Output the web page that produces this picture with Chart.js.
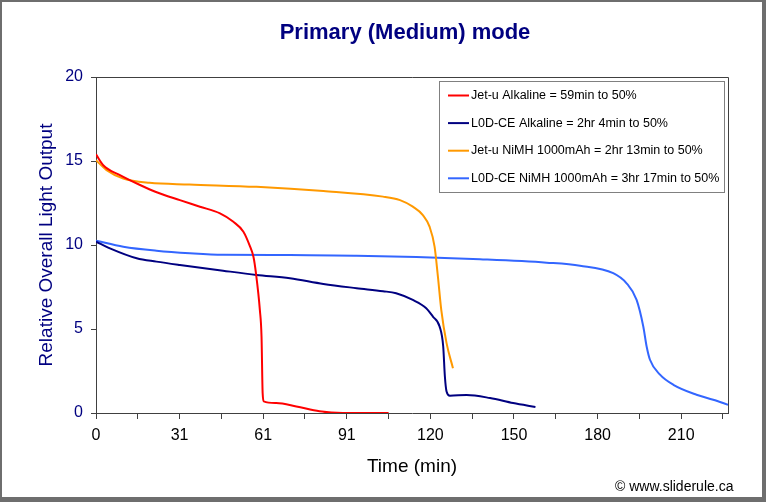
<!DOCTYPE html>
<html lang="en">
<head>
<meta charset="UTF-8">
<title>Primary (Medium) mode</title>
<script src="https://cdn.jsdelivr.net/npm/chart.js"></script>
<style>
    body {
        margin: 0;
        background: #fff;
    }
    #wrap {
        width: 766px;
        height: 502px;
    }
</style>
</head>
<body>
<div id="wrap"><canvas id="runtime-chart" width="766" height="502"></canvas></div>
<script>
// tick labels on the time axis (Excel category labels, one every 2 tick marks)
const xTickLabels = ['0', '31', '61', '91', '120', '150', '180', '210'];

// Jet-u Alkaline
const jetAlkTime = [0, 2.6, 8.6, 15.8, 21.3, 30.1, 37.3, 44.5, 49.3, 52.9, 55.3, 56.5, 57.4, 58.8, 59.4, 59.8, 60.2, 64.7, 71.9, 80.2, 88.6, 105];
const jetAlkOutput = [15.4, 14.75, 14.16, 13.57, 13.17, 12.67, 12.28, 11.88, 11.38, 10.79, 9.9, 9.3, 8.32, 6.14, 4.55, 1.19, 0.69, 0.59, 0.39, 0.1, 0, 0];

// L0D-CE Alkaline
const lodAlkTime = [0, 5, 14.6, 21.7, 30.1, 45.6, 57.6, 69.6, 81.6, 93.5, 103, 107.7, 113.7, 118.5, 120.9, 123.3, 124.6, 125.2, 125.8, 127, 133, 141.4, 149.7, 157.7];
const lodAlkOutput = [10.2, 9.8, 9.21, 9.01, 8.81, 8.47, 8.22, 8.02, 7.68, 7.43, 7.25, 7.13, 6.73, 6.24, 5.74, 5.15, 3.96, 2.17, 1.28, 1.03, 1.07, 0.89, 0.59, 0.36];

// Jet-u NiMH 1000mAh
const jetNimhTime = [0, 3.8, 9.8, 19.2, 33.5, 57.6, 81.6, 103, 109.1, 113.7, 117.3, 119.7, 121.5, 122.7, 123.9, 125.8, 128.1];
const jetNimhOutput = [15.05, 14.46, 13.96, 13.7, 13.6, 13.46, 13.21, 12.88, 12.67, 12.28, 11.78, 11.09, 9.9, 8.12, 6.14, 4.16, 2.67];

// L0D-CE NiMH 1000mAh
const lodNimhTime = [0, 9.8, 21.7, 33.7, 45.6, 69.6, 93.5, 115, 137.8, 161.7, 173.7, 185.6, 190.4, 194, 196.4, 197.6, 198.8, 202.4, 207.2, 215.5, 221.5, 226.8];
const lodNimhOutput = [10.26, 9.9, 9.66, 9.51, 9.42, 9.41, 9.36, 9.28, 9.15, 8.95, 8.77, 8.32, 7.72, 6.73, 5.15, 3.96, 3.17, 2.28, 1.68, 1.09, 0.79, 0.49];

const seriesLabels = [
    'Jet-u Alkaline = 59min to 50%',
    'L0D-CE Alkaline = 2hr 4min to 50%',
    'Jet-u NiMH 1000mAh = 2hr 13min to 50%',
    'L0D-CE NiMH 1000mAh = 3hr 17min to 50%'
];

function toPoints(xs, ys) {
    return xs.map((x, i) => ({ x: x, y: ys[i] }));
}

Chart.defaults.font.family = 'Arial, "Liberation Sans", sans-serif';

const axisColor = '#404040';

// title, plot frame, legend box, credit and outer border
const decorations = {
    id: 'decorations',
    afterDraw(chart) {
        const ctx = chart.ctx;
        const area = chart.chartArea;
        ctx.save();

        // plot frame (top and right edges)
        ctx.strokeStyle = axisColor;
        ctx.lineWidth = 1;
        ctx.beginPath();
        ctx.moveTo(area.left, area.top + 0.5);
        ctx.lineTo(area.right + 0.5, area.top + 0.5);
        ctx.lineTo(area.right + 0.5, area.bottom);
        ctx.stroke();

        // title
        ctx.fillStyle = '#000080';
        ctx.font = 'bold 22px Arial, "Liberation Sans", sans-serif';
        ctx.textAlign = 'center';
        ctx.textBaseline = 'middle';
        ctx.fillText('Primary (Medium) mode', 405, 33);

        // legend
        const lx = 439.5, ly = 81.5, lw = 285, lh = 111;
        ctx.fillStyle = '#fff';
        ctx.fillRect(lx, ly, lw, lh);
        ctx.strokeStyle = '#808080';
        ctx.strokeRect(lx, ly, lw, lh);
        ctx.font = '12.5px Arial, "Liberation Sans", sans-serif';
        ctx.textAlign = 'left';
        chart.data.datasets.forEach((ds, i) => {
            const y = 95.5 + i * 27.6;
            ctx.strokeStyle = ds.borderColor;
            ctx.lineWidth = 2;
            ctx.beginPath();
            ctx.moveTo(448, y);
            ctx.lineTo(469, y);
            ctx.stroke();
            ctx.fillStyle = '#000';
            ctx.fillText(ds.label, 471, y);
        });

        // credit
        ctx.font = '14px Arial, "Liberation Sans", sans-serif';
        ctx.fillStyle = '#000';
        ctx.fillText('\u00A9 www.sliderule.ca', 615, 487);

        // outer border
        ctx.strokeStyle = '#6e6e6e';
        ctx.lineWidth = 2;
        ctx.strokeRect(1, 1, 762, 497);
        ctx.fillStyle = '#6e6e6e';
        ctx.fillRect(763, 0, 3, 502);
        ctx.fillRect(0, 498, 766, 4);
        ctx.restore();
    }
};

const ctx = document.getElementById('runtime-chart').getContext('2d');
const runtimeChart = new Chart(ctx, {
    type: 'line',
    data: {
        datasets: [
            { label: seriesLabels[0], data: toPoints(jetAlkTime, jetAlkOutput), borderColor: '#ff0000' },
            { label: seriesLabels[1], data: toPoints(lodAlkTime, lodAlkOutput), borderColor: '#000080' },
            { label: seriesLabels[2], data: toPoints(jetNimhTime, jetNimhOutput), borderColor: '#ff9900' },
            { label: seriesLabels[3], data: toPoints(lodNimhTime, lodNimhOutput), borderColor: '#3366ff' }
        ]
    },
    options: {
        responsive: false,
        animation: false,
        parsing: false,
        elements: {
            point: { radius: 0 },
            line: { borderWidth: 2, cubicInterpolationMode: 'monotone', fill: false }
        },
        layout: {
            padding: { top: 77, right: 38, bottom: 0, left: 0 }
        },
        plugins: {
            legend: { display: false },
            title: { display: false },
            tooltip: { enabled: false }
        },
        scales: {
            x: {
                type: 'linear',
                min: 0,
                max: 226.8,
                afterFit(scale) { scale.height = 89; },
                afterBuildTicks(scale) {
                    scale.ticks = [];
                    for (let i = 0; i < xTickLabels.length * 2; i++) {
                        scale.ticks.push({ value: i * 15 });
                    }
                },
                ticks: {
                    autoSkip: false,
                    maxRotation: 0,
                    color: '#000',
                    padding: 7,
                    font: { size: 16 },
                    callback(value) {
                        return value % 30 === 0 ? xTickLabels[value / 30] : '';
                    }
                },
                grid: {
                    drawOnChartArea: false,
                    drawTicks: true,
                    tickLength: 6,
                    color: axisColor
                },
                border: { display: true, color: axisColor, width: 1 },
                title: {
                    display: true,
                    text: 'Time (min)',
                    color: '#000',
                    font: { size: 19 },
                    padding: { top: 0, bottom: 24 }
                }
            },
            y: {
                min: 0,
                max: 20,
                afterFit(scale) { scale.width = 96; },
                ticks: {
                    stepSize: 5,
                    color: '#000080',
                    padding: 8,
                    font: { size: 16 }
                },
                grid: {
                    drawOnChartArea: false,
                    drawTicks: true,
                    tickLength: 5,
                    color: axisColor
                },
                border: { display: true, color: axisColor, width: 1 },
                title: {
                    display: true,
                    text: 'Relative Overall Light Output',
                    color: '#000080',
                    font: { size: 19 },
                    padding: { top: 35, bottom: 0 }
                }
            }
        }
    },
    plugins: [decorations]
});
</script>
</body>
</html>
